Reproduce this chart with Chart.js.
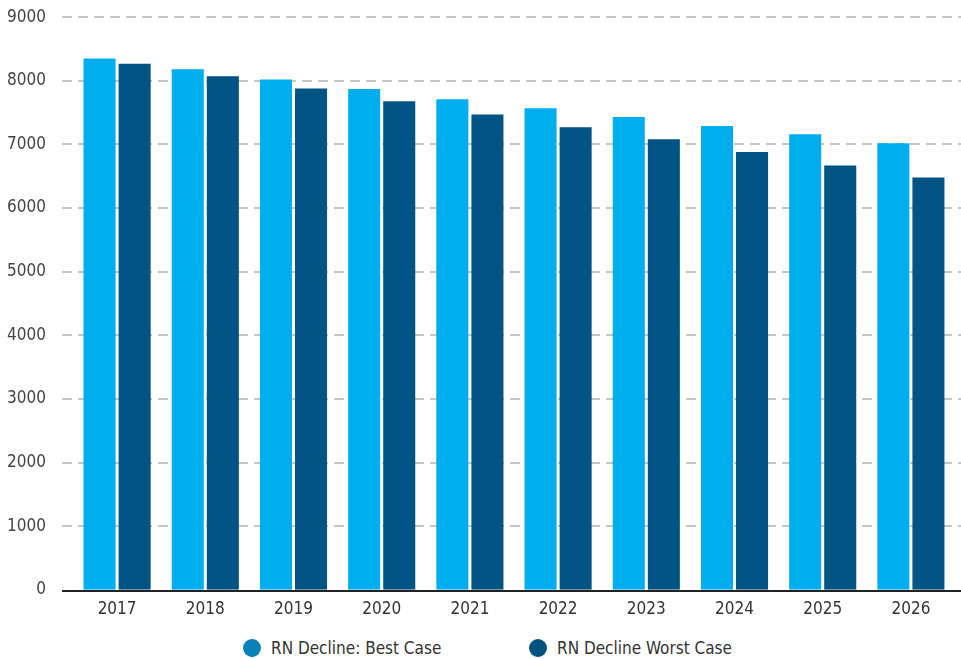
<!DOCTYPE html>
<html>
<head>
<meta charset="utf-8">
<script src="https://cdn.jsdelivr.net/npm/chart.js@4"></script>
<style>
  html, body { margin: 0; padding: 0; background: #fff; overflow: hidden; }
  #wrap { width: 961px; height: 647px; margin-top: -20px; position: relative; }
  #legend { width: 961px; height: 32px; position: relative; font-family: 'DejaVu Sans Condensed', 'Roboto', sans-serif; font-size: 17px; color: #333; }
  .item { position: absolute; top: 11px; display: flex; align-items: center; }
  .dot { width: 18px; height: 18px; border-radius: 50%; margin-right: 10px; }
</style>
</head>
<body>
<div id="wrap"><canvas id="chart"></canvas></div>
<div id="legend"></div>
<script>
const years = ["2017", "2018", "2019", "2020", "2021", "2022", "2023", "2024", "2025", "2026"];
const bestCase = [8350, 8180, 8020, 7870, 7710, 7570, 7430, 7290, 7160, 7020];
const worstCase = [8270, 8070, 7880, 7680, 7470, 7270, 7080, 6880, 6670, 6480];
const seriesNames = ["RN Decline: Best Case", "RN Decline Worst Case"];
const legendColors = ["#0a80b8", "#00527f"];

const FONT = "'DejaVu Sans Condensed', 'Roboto', sans-serif";

// dashed grid + axis line across the full width, behind the bars
const wideGrid = {
  id: "wideGrid",
  beforeDatasetsDraw(chart) {
    const ctx = chart.ctx;
    const y = chart.scales.y;
    ctx.save();
    y.ticks.forEach((t) => {
      const py = Math.round(y.getPixelForValue(t.value));
      if (t.value === 0) return;
      ctx.strokeStyle = "#b3b3b3";
      ctx.lineWidth = 1.5;
      ctx.setLineDash([10, 6]);
      ctx.beginPath();
      ctx.moveTo(62, py);
      ctx.lineTo(chart.width, py);
      ctx.stroke();
    });
    ctx.restore();
  },
  afterDatasetsDraw(chart) {
    const ctx = chart.ctx;
    const py = Math.round(chart.scales.y.getPixelForValue(0)) + 1;
    ctx.save();
    ctx.strokeStyle = "#222";
    ctx.lineWidth = 2;
    ctx.beginPath();
    ctx.moveTo(62, py);
    ctx.lineTo(chart.width, py);
    ctx.stroke();
    ctx.restore();
  },
};

new Chart(document.getElementById("chart"), {
  type: "bar",
  data: {
    labels: years,
    datasets: [
      { label: seriesNames[0], data: bestCase, backgroundColor: "#00adef" },
      { label: seriesNames[1], data: worstCase, backgroundColor: "#005483" },
    ],
  },
  options: {
    responsive: true,
    maintainAspectRatio: false,
    animation: false,
    categoryPercentage: 0.795,
    barPercentage: 0.914,
    layout: { padding: { top: 0, right: 6, left: 0, bottom: -8 } },
    scales: {
      x: {
        grid: { display: false, drawTicks: false },
        border: { display: false },
        ticks: { color: "#333", font: { family: FONT, size: 17 }, padding: 10 },
      },
      y: {
        min: 0,
        max: 9000,
        afterFit: (s) => { s.width = 73; },
        grid: { display: false, drawTicks: false },
        border: { display: false },
        ticks: {
          stepSize: 1000,
          color: "#444",
          font: { family: FONT, size: 17 },
          padding: 27,
          callback: (v) => String(v),
        },
      },
    },
    plugins: {
      tooltip: { enabled: false },
      legend: { display: false },
    },
  },
  plugins: [wideGrid],
});

// legend as html below the canvas
const legendEl = document.getElementById("legend");
const legendX = [243, 529];
seriesNames.forEach((name, i) => {
  const item = document.createElement("div");
  item.className = "item";
  item.style.left = legendX[i] + "px";
  const dot = document.createElement("span");
  dot.className = "dot";
  dot.style.background = legendColors[i];
  const txt = document.createElement("span");
  txt.textContent = name;
  item.appendChild(dot);
  item.appendChild(txt);
  legendEl.appendChild(item);
});
</script>
</body>
</html>
